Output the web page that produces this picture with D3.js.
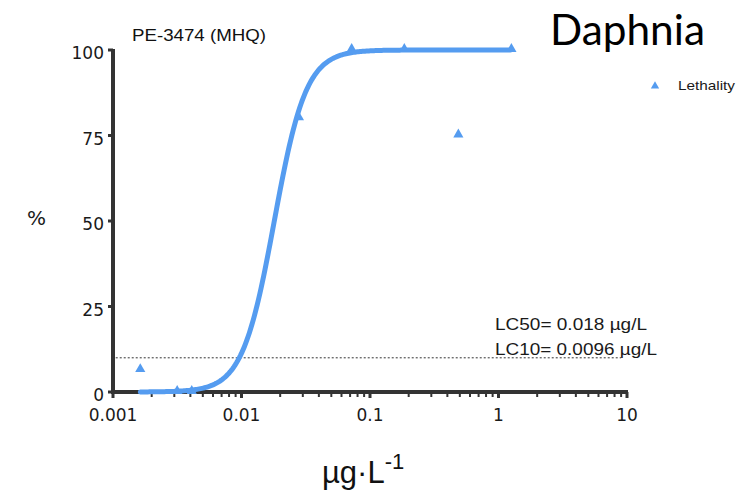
<!DOCTYPE html>
<html>
<head>
<meta charset="utf-8">
<script src="https://cdn.jsdelivr.net/npm/d3@7"></script>
<style>
  body { margin: 0; background: #fff; }
  svg { display: block; }
</style>
</head>
<body>
<div id="chart"></div>
<script>
// measured points (concentration in µg/L, % lethality)
const concentrations = [0.00163, 0.00316, 0.0041, 0.028, 0.072, 0.185, 0.487, 1.26];
const lethality = [6.4, 0, 0, 80, 100, 100, 75, 100];

// fitted dose-response curve
const lc50 = 0.018;
const hillSlope = 3.5;
const curveRange = [0.00163, 1.26];
const lc10Level = 10;

const xTickValues = [0.001, 0.01, 0.1, 1, 10];
const xTickLabels = ['0.001', '0.01', '0.1', '1', '10'];
const yTickValues = [0, 25, 50, 75, 100];

const chartTitle = 'PE-3474 (MHQ)';
const speciesLabel = 'Daphnia';
const legendLabel = 'Lethality';
const lcLines = ['LC50= 0.018 \u00b5g/L', 'LC10= 0.0096 \u00b5g/L'];

function doseResponse() {
    const width = 747;
    const height = 492;
    const margin = { top: 50, right: 120, bottom: 100, left: 113 };
    const blue = '#559cf0';
    const axisColor = '#333333';
    const textColor = '#1a1a1a';

    let svg;
    let x;
    let y;

    function exports(container) {
        svg = d3.select(container)
          .append('svg')
            .attr('width', width)
            .attr('height', height);

        buildScales();
        drawAxes();
        drawPoints();
        drawCurve();
        drawTexts();
        drawLegend();
    }

    function buildScales() {
        x = d3.scaleLog()
            .domain([0.001, 10])
            .range([margin.left, 627]);
        y = d3.scaleLinear()
            .domain([0, 100])
            .range([392, margin.top]);
    }

    function drawAxes() {
        // x axis: major + minor log ticks
        const minor = [];
        for (let p = -3; p < 1; p++) {
            for (let k = 2; k <= 9; k++) minor.push(k * Math.pow(10, p));
        }

        const xg = svg.append('g').classed('x-axis', true);
        xg.selectAll('.minor')
            .data(minor)
          .enter().append('line')
            .attr('x1', d => x(d)).attr('x2', d => x(d))
            .attr('y1', y(0)).attr('y2', y(0) + 5)
            .style('stroke', axisColor)
            .style('stroke-width', 2);
        xg.selectAll('.major')
            .data(xTickValues)
          .enter().append('line')
            .attr('x1', d => x(d)).attr('x2', d => x(d))
            .attr('y1', y(0)).attr('y2', y(0) + 6)
            .style('stroke', axisColor)
            .style('stroke-width', 3);
        xg.append('line')
            .attr('x1', x(0.001) - 1).attr('x2', x(10) + 1)
            .attr('y1', y(0)).attr('y2', y(0))
            .style('stroke', axisColor)
            .style('stroke-width', 4);
        xg.selectAll('.x-label')
            .data(xTickValues)
          .enter().append('text')
            .attr('x', d => x(d))
            .attr('y', y(0) + 29)
            .attr('text-anchor', 'middle')
            .style('font-family', 'DejaVu Sans, sans-serif')
            .style('font-size', '17px')
            .style('fill', textColor)
            .text((d, i) => xTickLabels[i]);

        // y axis
        const yg = svg.append('g').classed('y-axis', true);
        yg.append('line')
            .attr('x1', x(0.001)).attr('x2', x(0.001))
            .attr('y1', y(100) - 1).attr('y2', y(0) + 2)
            .style('stroke', axisColor)
            .style('stroke-width', 4);
        yg.selectAll('.y-tick')
            .data(yTickValues)
          .enter().append('line')
            .attr('x1', x(0.001) - 5).attr('x2', x(0.001))
            .attr('y1', d => y(d)).attr('y2', d => y(d))
            .style('stroke', axisColor)
            .style('stroke-width', 3);
        yg.selectAll('.y-label')
            .data(yTickValues)
          .enter().append('text')
            .attr('x', x(0.001) - 9)
            .attr('y', d => y(d) + 9)
            .attr('text-anchor', 'end')
            .style('font-family', 'DejaVu Sans, sans-serif')
            .style('font-size', '17px')
            .style('fill', textColor)
            .text(d => d);

        // LC10 reference line
        svg.append('line')
            .attr('x1', x(0.00105)).attr('x2', x(9))
            .attr('y1', y(lc10Level)).attr('y2', y(lc10Level))
            .style('stroke', '#333')
            .style('stroke-width', 1)
            .style('stroke-dasharray', '2,2');
    }

    function drawCurve() {
        const logs = d3.range(Math.log10(curveRange[0]), Math.log10(curveRange[1]) + 0.001, 0.01);
        const pts = logs.map(l => {
            const c = Math.pow(10, l);
            return [c, 100 / (1 + Math.pow(lc50 / c, hillSlope))];
        });
        svg.append('path')
            .datum(pts)
            .attr('d', d3.line().x(d => x(d[0])).y(d => y(d[1])))
            .style('fill', 'none')
            .style('stroke', blue)
            .style('stroke-width', 5)
            .style('stroke-linecap', 'round');
    }

    function drawPoints() {
        const tri = d3.symbol().type(d3.symbolTriangle).size(45);
        svg.selectAll('.point')
            .data(concentrations)
          .enter().append('path')
            .attr('d', tri)
            .attr('transform', (d, i) => `translate(${x(d)}, ${y(lethality[i]) - 1})`)
            .style('fill', blue);
    }

    function drawTexts() {
        svg.append('text')
            .attr('x', 132).attr('y', 41)
            .attr('textLength', 134)
            .attr('lengthAdjust', 'spacingAndGlyphs')
            .style('font-family', 'Liberation Sans, Arial, sans-serif')
            .style('font-size', '17px')
            .style('fill', '#111')
            .text(chartTitle);

        svg.append('text')
            .attr('x', 550).attr('y', 45)
            .attr('textLength', 155)
            .attr('lengthAdjust', 'spacingAndGlyphs')
            .style('font-family', 'Lato, sans-serif')
            .style('font-size', '42px')
            .style('fill', '#000')
            .text(speciesLabel);

        svg.selectAll('.lc-text')
            .data(lcLines)
          .enter().append('text')
            .attr('x', 495)
            .attr('y', (d, i) => 330 + i * 25)
            .attr('textLength', (d, i) => i === 0 ? 152 : 162)
            .attr('lengthAdjust', 'spacingAndGlyphs')
            .style('font-family', 'Liberation Sans, Arial, sans-serif')
            .style('font-size', '17px')
            .style('fill', textColor)
            .text(d => d);

        svg.append('text')
            .attr('x', 27).attr('y', 225)
            .style('font-family', 'DejaVu Sans, sans-serif')
            .style('font-size', '20px')
            .style('fill', textColor)
            .text('%');

        const xt = svg.append('text')
            .attr('x', 322).attr('y', 483)
            .style('font-family', 'Liberation Sans, Arial, sans-serif')
            .style('font-size', '31px')
            .style('fill', '#111');
        xt.append('tspan').text('\u00b5g\u00b7L');
        xt.append('tspan')
            .attr('dy', -14)
            .style('font-size', '22px')
            .text('-1');
    }

    function drawLegend() {
        const tri = d3.symbol().type(d3.symbolTriangle).size(30);
        svg.append('path')
            .attr('d', tri)
            .attr('transform', 'translate(655, 86)')
            .style('fill', blue);
        svg.append('text')
            .attr('x', 678).attr('y', 90)
            .attr('textLength', 57)
            .attr('lengthAdjust', 'spacingAndGlyphs')
            .style('font-family', 'Liberation Sans, Arial, sans-serif')
            .style('font-size', '13px')
            .style('fill', textColor)
            .text(legendLabel);
    }

    return exports;
}

doseResponse()(document.getElementById('chart'));
</script>
</body>
</html>
